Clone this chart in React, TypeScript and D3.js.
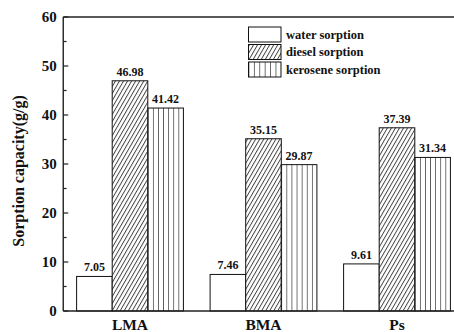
import React from 'react';
import * as d3 from 'd3';

const categories = ['LMA', 'BMA', 'Ps'];
const seriesNames = ['water sorption', 'diesel sorption', 'kerosene sorption'];
const water = [7.05, 7.46, 9.61];
const diesel = [46.98, 35.15, 37.39];
const kerosene = [41.42, 29.87, 31.34];
const yTicks = [0, 10, 20, 30, 40, 50, 60];
const yMinor = [5, 15, 25, 35, 45, 55];
const yLabel = 'Sorption capacity(g/g)';

const W = 454;
const H = 332;
const FONT = '"Liberation Serif", "Times New Roman", serif';

export default function App() {
  const left = 63.25;
  const right = 463.75;
  const top = 17;
  const bottom = 311;
  const y = d3.scaleLinear().domain([0, 60]).range([bottom, top]);
  const x = d3.scaleBand<string>().domain(categories).range([left, right]).paddingInner(0.2).paddingOuter(0.1);
  const xs = d3.scaleBand<string>().domain(seriesNames).range([0, x.bandwidth()]).padding(0);
  const seriesValues = [water, diesel, kerosene];
  const axisColor = '#222';

  const bars: any[] = [];
  categories.forEach((c, ci) => {
    seriesNames.forEach((s, si) => {
      const v = seriesValues[si][ci];
      const bx = (x(c) as number) + (xs(s) as number);
      bars.push({ c, s, si, ci, v, x: bx, w: xs.bandwidth(), y: y(v), h: y(0) - y(v) });
    });
  });

  const fillFor = (b: any) => {
    if (b.si === 0) return '#fff';
    if (b.si === 1) return 'url(#diag)';
    return `url(#vstripe-${b.ci})`;
  };

  const legendX = 248.5;
  const legendY = 27;
  const legendStep = 17.5;
  const boxW = 32.5;
  const boxH = 15;

  return (
    <div style={{ position: 'fixed', left: 0, top: 0 }}>
      <svg width={W} height={H} style={{ display: 'block', background: '#fff' }}>
        <defs>
          <pattern id="diag" patternUnits="userSpaceOnUse" width={3.5} height={10} patternTransform="rotate(30)">
            <rect width={3.5} height={10} fill="#fff" />
            <line x1={0.5} y1={0} x2={0.5} y2={10} stroke="#111" strokeWidth={0.8} />
          </pattern>
          {bars.filter((b) => b.si === 2).map((b) => (
            <pattern key={b.ci} id={`vstripe-${b.ci}`} patternUnits="userSpaceOnUse" x={b.x} y={0} width={5.1} height={10}>
              <rect width={5.1} height={10} fill="#fff" />
              <line x1={0} y1={0} x2={0} y2={10} stroke="#111" strokeWidth={1.2} />
            </pattern>
          ))}
          <pattern id="vstripe-legend" patternUnits="userSpaceOnUse" x={legendX} y={0} width={5.4} height={10}>
            <rect width={5.4} height={10} fill="#fff" />
            <line x1={0} y1={0} x2={0} y2={10} stroke="#111" strokeWidth={1.2} />
          </pattern>
        </defs>

        {bars.map((b, i) => (
          <rect key={i} x={b.x} y={b.y} width={b.w} height={b.h} fill={fillFor(b)} stroke="#111" strokeWidth={1} />
        ))}

        {bars.map((b, i) => (
          <text key={'v' + i} x={b.x + b.w / 2} y={b.y - 5} textAnchor="middle" fontFamily={FONT} fontWeight="bold" fontSize={12} fill="#111">
            {b.v.toFixed(2)}
          </text>
        ))}

        {/* axes frame */}
        <line x1={left} y1={top} x2={right} y2={top} stroke={axisColor} strokeWidth={1.4} />
        <line x1={left} y1={bottom} x2={right} y2={bottom} stroke={axisColor} strokeWidth={1.4} />
        <line x1={left} y1={top} x2={left} y2={bottom} stroke={axisColor} strokeWidth={1.4} />
        <line x1={right} y1={top} x2={right} y2={bottom} stroke={axisColor} strokeWidth={1.4} />

        {yTicks.map((t) => (
          <g key={t}>
            <line x1={left} x2={left + 5} y1={y(t)} y2={y(t)} stroke={axisColor} strokeWidth={1.2} />
            <text x={left - 6.5} y={y(t)} dy="0.35em" textAnchor="end" fontFamily={FONT} fontWeight="bold" fontSize={15} fill="#111">
              {t}
            </text>
          </g>
        ))}
        {yMinor.map((t) => (
          <line key={t} x1={left} x2={left + 3.3} y1={y(t)} y2={y(t)} stroke={axisColor} strokeWidth={1.2} />
        ))}

        {categories.map((c) => (
          <text key={c} x={(x(c) as number) + x.bandwidth() / 2} y={330} textAnchor="middle" fontFamily={FONT} fontWeight="bold" fontSize={15.5} fill="#111">
            {c}
          </text>
        ))}

        <text transform={`translate(24,171) rotate(-90)`} textAnchor="middle" fontFamily={FONT} fontWeight="bold" fontSize={16} fill="#111">
          {yLabel}
        </text>

        {seriesNames.map((s, i) => (
          <g key={s}>
            <rect
              x={legendX}
              y={legendY + i * legendStep}
              width={boxW}
              height={boxH}
              fill={i === 0 ? '#fff' : i === 1 ? 'url(#diag)' : 'url(#vstripe-legend)'}
              stroke="#111"
              strokeWidth={1}
            />
            <text x={legendX + boxW + 5} y={legendY + i * legendStep + boxH / 2} dy="0.35em" fontFamily={FONT} fontWeight="bold" fontSize={12.5} fill="#111">
              {s}
            </text>
          </g>
        ))}
      </svg>
    </div>
  );
}
